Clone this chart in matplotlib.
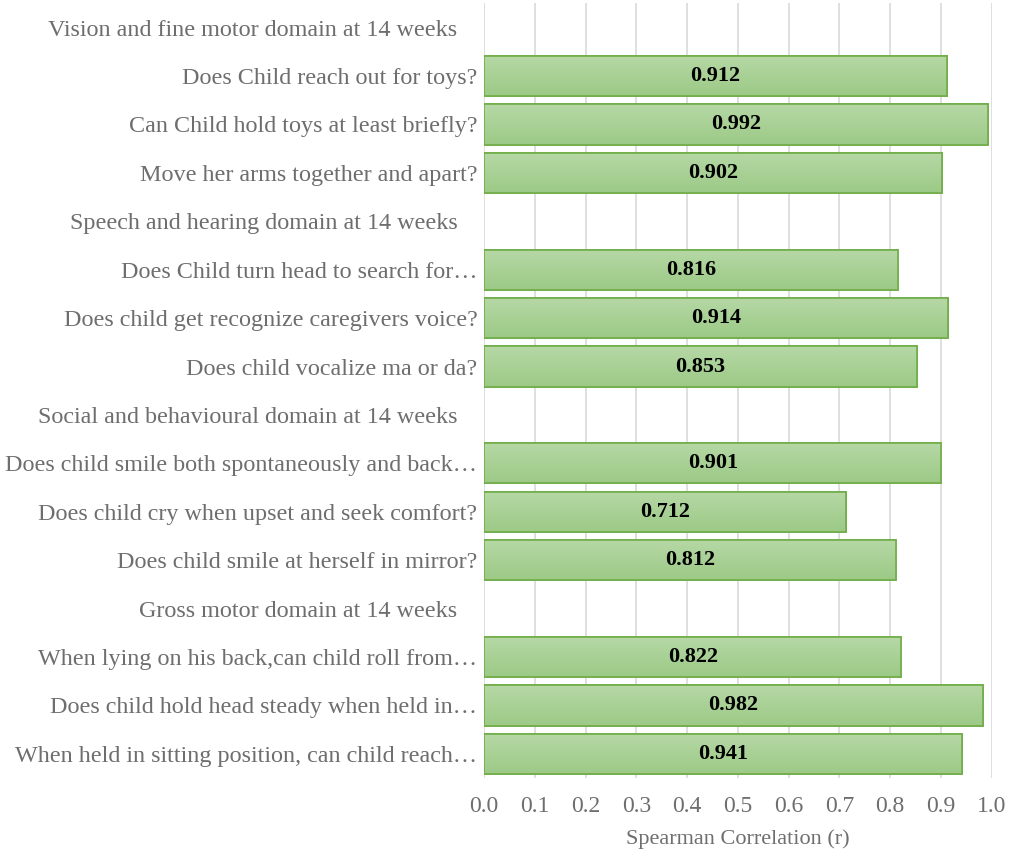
import numpy as np
import matplotlib
matplotlib.use("Agg")
import matplotlib.pyplot as plt
from matplotlib.colors import LinearSegmentedColormap
from matplotlib.transforms import ScaledTranslation

labels = [
    "Vision and fine motor domain at 14 weeks",
    "Does Child reach out for toys?",
    "Can Child hold toys at least briefly?",
    "Move her arms together and apart?",
    "Speech and hearing domain at 14 weeks",
    "Does Child turn head to search for\u2026",
    "Does child get recognize caregivers voice?",
    "Does child vocalize ma or da?",
    "Social and behavioural domain at 14 weeks",
    "Does child smile both spontaneously and back\u2026",
    "Does child cry when upset and seek comfort?",
    "Does child smile at herself in mirror?",
    "Gross motor domain at 14 weeks",
    "When lying on his back,can child roll from\u2026",
    "Does child hold head steady when held in\u2026",
    "When held in sitting position, can child reach\u2026",
]
# None = domain header row (no bar)
values = [None, 0.912, 0.992, 0.902, None, 0.816, 0.914, 0.853,
          None, 0.901, 0.712, 0.812, None, 0.822, 0.982, 0.941]
xticks = [round(0.1 * i, 1) for i in range(11)]

plt.rcParams['font.family'] = ['Liberation Serif', 'DejaVu Serif']
gray = '#6e6e6e'

fig = plt.figure(figsize=(10.13, 8.56), dpi=100)
ax = fig.add_axes([0.478, 0.091, 0.501, 0.905])

y = np.arange(len(labels))
vals = [v if v is not None else 0 for v in values]
bars = ax.barh(y, vals, height=0.83, color='#a9d18e', edgecolor='#70ad47',
               linewidth=1.2, zorder=2)

cmap = LinearSegmentedColormap.from_list('g', ['#b6d8a6', '#9cca86'])
grad = np.linspace(0, 1, 64).reshape(-1, 1)
for b, v in zip(bars, values):
    if v is None:
        b.set_visible(False)
        continue
    x0, y0 = b.get_x(), b.get_y()
    w, h = b.get_width(), b.get_height()
    im = ax.imshow(grad, cmap=cmap, aspect='auto', origin='upper',
                   extent=(x0, x0 + w, y0 + h, y0), zorder=2.5)
    im.set_clip_path(b)
    ax.add_patch(plt.Rectangle((x0, y0), w, h, fill=False, edgecolor='#70ad47',
                               linewidth=1.2, zorder=3))
    ax.text(w / 2, b.get_y() + h / 2, f"{v:.3f}", ha='center', va='center',
            fontsize=16, fontweight='bold', color='black', zorder=4)

ax.set_xlim(0, 1.0)
ax.set_ylim(len(labels) - 0.5, -0.5)
ax.set_xticks(xticks)
ax.set_xticklabels([f"{t:.1f}" for t in xticks], fontsize=17, color=gray)
ax.set_yticks(y)
ax.set_yticklabels(labels, fontsize=17.4, color=gray)
ax.tick_params(axis='y', length=0, pad=5)
ax.tick_params(axis='x', length=0, pad=13)

# domain header labels sit a little further left
shift = ScaledTranslation(-0.2, 0, fig.dpi_scale_trans)
for lbl, v in zip(ax.get_yticklabels(), values):
    if v is None:
        lbl.set_transform(lbl.get_transform() + shift)

ax.grid(axis='x', color='#d9d9d9', linewidth=1.2, zorder=0)
ax.set_axisbelow(True)
for s in ax.spines.values():
    s.set_visible(False)
ax.set_xlabel("Spearman Correlation (r)", fontsize=16, color=gray, labelpad=9)

fig.savefig("out.png", dpi=100)
